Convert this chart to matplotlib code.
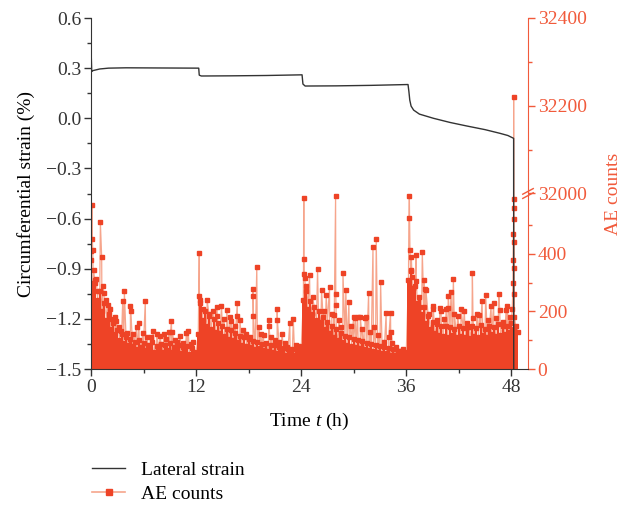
import numpy as np
import matplotlib
matplotlib.use('Agg')
import matplotlib.pyplot as plt
from matplotlib.lines import Line2D
from matplotlib.ticker import FixedLocator, FuncFormatter, NullFormatter

plt.rcParams['font.family'] = ['Liberation Serif', 'DejaVu Serif']
plt.rcParams['mathtext.fontset'] = 'custom'
plt.rcParams['mathtext.it'] = 'Liberation Serif:italic'
plt.rcParams['mathtext.rm'] = 'Liberation Serif'

# lateral (circumferential) strain, %
strain_t = [0, 0.03, 0.08, 0.2, 0.6, 1.0, 2.0, 4.0, 8.0, 12.3, 12.36, 12.6, 16.0, 20.0,
            24.1, 24.2, 24.45, 28.0, 32.0, 36.2, 36.3, 36.4, 36.55, 36.84, 37.5, 39.1,
            41.0, 42.9, 45.0, 46.7, 47.6, 48.26, 48.27]
strain_v = [0.22, 0.37, 0.28, 0.285, 0.29, 0.295, 0.3, 0.302, 0.301, 0.3, 0.258, 0.253, 0.254, 0.256,
            0.26, 0.205, 0.193, 0.194, 0.197, 0.202, 0.16, 0.109, 0.073, 0.049, 0.025, 0.0,
            -0.025, -0.046, -0.068, -0.09, -0.103, -0.12, -1.5]

# AE counts, background level sampled every 0.25 h
base_step = 0.25
base_v = [380, 300, 310, 240, 270, 200, 230, 170, 190, 140, 160, 120,
          135, 100, 120, 90, 110, 85, 105, 80, 95, 70, 100, 75,
          90, 65, 85, 70, 95, 60, 80, 72, 88, 58, 82, 66,
          90, 60, 78, 64, 84, 55, 76, 62, 80, 52, 72, 60,
          # 12 h
          55, 120, 230, 170, 200, 150, 185, 140, 175, 130, 160, 125,
          150, 115, 140, 105, 135, 100, 125, 95, 115, 85, 110, 80,
          105, 78, 98, 70, 95, 72, 88, 65, 90, 62, 84, 60,
          82, 56, 78, 58, 74, 50, 70, 54, 68, 48, 66, 60,
          # 24 h
          70, 240, 270, 210, 235, 190, 215, 170, 200, 155, 180, 140,
          165, 125, 150, 110, 140, 100, 125, 95, 115, 85, 110, 80,
          105, 75, 100, 72, 96, 68, 92, 66, 88, 62, 85, 60,
          80, 56, 76, 54, 72, 50, 68, 48, 64, 46, 62, 55,
          # 36 h
          60, 310, 340, 280, 290, 230, 250, 190, 215, 160, 185, 140,
          165, 125, 155, 118, 150, 115, 148, 112, 145, 118, 140, 110,
          150, 115, 142, 112, 146, 108, 150, 116, 144, 110, 152, 118,
          140, 112, 150, 120, 145, 114, 155, 118, 148, 122, 150, 130,
          160, 140, 150, 130]
base_t = np.arange(len(base_v)) * base_step

# AE count bursts
peak_t = [0.05, 0.1, 0.15, 0.2, 0.3, 0.45, 0.6, 0.8, 1.07, 1.22, 1.35, 1.49, 1.7, 1.97, 2.2,
          2.45, 2.7, 2.9, 3.2, 3.4, 3.62, 3.81, 4.1, 4.5, 4.55, 4.8, 5.2, 5.49, 5.9, 6.2, 6.4,
          6.8, 7.12, 7.5, 7.9, 8.3, 8.6, 8.9, 9.18, 9.3, 9.6, 9.85, 10.2, 10.5, 10.9, 11.1,
          11.4, 11.7,
          12.36, 12.38, 12.5, 12.8, 13.26, 13.5, 13.9, 14.36, 14.4, 14.9, 15.2, 15.5, 15.9,
          16.0, 16.4, 16.7, 16.72, 17.0, 17.3, 17.7, 18.1, 18.5, 18.52, 18.55, 18.93, 19.2,
          19.4, 19.7, 20.3, 20.32, 20.6, 21.0, 21.26, 21.28, 21.5, 21.8, 22.1, 22.4, 22.7,
          23.1, 23.4, 23.7,
          24.3, 24.32, 24.34, 24.4, 24.6, 24.96, 25.3, 25.87, 25.99, 26.33, 26.6, 26.86,
          27.24, 27.5, 27.7, 27.93, 27.95, 27.98, 28.3, 28.6, 28.77, 29.1, 29.45, 29.7,
          29.98, 30.2, 30.44, 30.75, 31.0, 31.3, 31.43, 31.7, 31.9, 32.2, 32.35, 32.57,
          32.8, 33.07, 33.4, 33.7, 34.0, 34.2, 34.25, 34.4, 34.8, 35.2, 35.6,
          36.3, 36.35, 36.42, 36.5, 36.58, 36.65, 36.8, 37.11, 37.15, 37.5, 37.83, 38.02,
          38.1, 38.25, 38.6, 39.09, 39.1, 39.5, 39.85, 39.97, 40.3, 40.54, 40.77, 40.8,
          41.11, 41.38, 41.5, 41.87, 42.25, 42.63, 42.9, 43.17, 43.55, 43.62, 44.08, 44.35,
          44.65, 45.07, 45.3, 45.68, 45.98, 46.25, 46.56, 46.67, 47.0, 47.4, 47.51, 47.8,
          47.97, 48.1, 48.2, 48.22, 48.24, 48.25, 48.26, 48.27, 48.28, 48.29, 48.3, 48.32,
          48.35]
peak_v = [410, 571, 451, 414, 344, 300, 313, 270, 510, 388, 290, 263, 240, 222, 209,
          175, 180, 168, 147, 133, 238, 270, 125, 218, 200, 121, 146, 159, 124, 236, 112,
          110, 132, 121, 114, 122, 105, 129, 168, 129, 100, 95, 113, 90, 125, 131,
          88, 95,
          404, 255, 240, 210, 239, 190, 200, 217, 184, 218, 175, 205, 182,
          168, 150, 228, 184, 170, 136, 120, 110, 277, 253, 183, 354, 145,
          121, 118, 170, 150, 112, 100, 210, 172, 95, 122, 90, 78, 161,
          173, 85, 80,
          594, 381, 330, 318, 290, 326, 250, 346, 165, 274, 200, 257,
          286, 190, 188, 600, 260, 221, 170, 147, 335, 274, 234, 150,
          180, 176, 182, 180, 140, 176, 180, 263, 130, 425, 147, 451,
          118, 302, 95, 193, 110, 194, 130, 89, 75, 61, 70,
          524, 600, 414, 344, 391, 321, 280, 395, 307, 217, 407, 310,
          277, 273, 190, 219, 207, 170, 213, 200, 175, 208, 211, 254,
          267, 312, 191, 185, 208, 200, 160, 147, 333, 176, 191, 187,
          238, 258, 170, 218, 228, 176, 260, 205, 165, 205, 219, 182,
          159, 210, 300, 380, 470, 560, 32220, 590, 520, 440, 350, 260,
          180]

RED = '#EE4326'
SALMON = '#F6A58C'
AXRED = '#F15A3B'
BLACK = '#333333'

ae_t = np.concatenate([base_t, peak_t])
ae_v = np.concatenate([base_v, peak_v]).astype(float)
order = np.argsort(ae_t, kind='stable')
ae_t, ae_v = ae_t[order], ae_v[order]

fig = plt.figure(figsize=(6.24, 5.11), dpi=100)
ax = fig.add_axes([91 / 624, 1 - 369 / 511, (528 - 91) / 624, (369 - 18) / 511])
ax2 = ax.twinx()
ax.set_zorder(ax2.get_zorder() + 1)
ax.patch.set_visible(False)

# broken right axis: 0-610 on the lower half, 32000-32400 on the upper half
def fwd(v):
    return np.interp(v, [0, 610, 32000, 32400], [0, 0.5, 0.5001, 1.0])


def inv(y):
    return np.interp(y, [0, 0.5, 0.5001, 1.0], [0, 610, 32000, 32400])


ax2.set_yscale('function', functions=(fwd, inv))
ax2.set_ylim(0, 32400)

ax2.plot(ae_t, ae_v, color=SALMON, lw=0.9, zorder=1)
# dense background of the AE record as one filled step polygon
ax2.fill_between(base_t, 0, base_v, step='mid', color=RED, linewidth=0, zorder=2)
ax2.plot(ae_t, ae_v, ls='none', marker='s', markersize=3.3, color=RED, zorder=3)

ax.plot(strain_t, strain_v, color=BLACK, lw=1.0, zorder=5)

ax.set_xlim(0, 49.9)
ax.set_ylim(-1.5, 0.6)
ax.xaxis.set_major_locator(FixedLocator([0, 12, 24, 36, 48]))
ax.xaxis.set_minor_locator(FixedLocator([6, 18, 30, 42]))
ax.yaxis.set_major_locator(FixedLocator([-1.5, -1.2, -0.9, -0.6, -0.3, 0.0, 0.3, 0.6]))
ax.yaxis.set_minor_locator(FixedLocator([-1.35, -1.05, -0.75, -0.45, -0.15, 0.15, 0.45]))
ax.yaxis.set_major_formatter(FuncFormatter(lambda v, p: ('%.1f' % v).replace('-', '\u2212')))

ax2.yaxis.set_major_locator(FixedLocator([0, 200, 400, 32000, 32200, 32400]))
ax2.yaxis.set_minor_locator(FixedLocator([100, 300, 500, 32100, 32300]))
ax2.yaxis.set_major_formatter(FuncFormatter(lambda v, p: '%d' % round(v)))
ax2.yaxis.set_minor_formatter(NullFormatter())

for s in ['top', 'right']:
    ax.spines[s].set_visible(False)
for s in ['top', 'left', 'bottom']:
    ax2.spines[s].set_visible(False)
ax.spines['left'].set_color(BLACK)
ax.spines['bottom'].set_color(BLACK)
ax2.spines['right'].set_color(AXRED)

ax.tick_params(which='major', length=5, width=1, colors=BLACK, labelsize=14, pad=2)
ax.tick_params(which='minor', length=3, width=1, colors=BLACK)
ax2.tick_params(which='major', length=5, width=1, colors=AXRED, labelsize=14, pad=2)
ax2.tick_params(which='minor', length=3, width=1, colors=AXRED)

# break marks on the right spine
for dy in (-0.006, 0.006):
    ax2.plot([0.988, 1.012], [0.5 + dy - 0.008, 0.5 + dy + 0.008], transform=ax2.transAxes,
             color=AXRED, lw=1, clip_on=False, zorder=10)

ax.set_xlabel('Time $t$ (h)', fontsize=14, labelpad=11)
ax.set_ylabel('Circumferential strain (%)', fontsize=14, labelpad=8)
ax2.set_ylabel('AE counts', fontsize=14, color=AXRED, labelpad=13)

handles = [Line2D([], [], color=BLACK, lw=1.0),
           Line2D([], [], color=SALMON, lw=1.2, marker='s', markersize=4,
                  markerfacecolor=RED, markeredgecolor=RED)]
fig.legend(handles, ['Lateral strain', 'AE counts'], loc='upper left',
           bbox_to_anchor=(92 / 624, 1 - 461 / 511), frameon=False, fontsize=14,
           handlelength=1.7, handletextpad=0.8, labelspacing=0.35,
           borderpad=0, borderaxespad=0)

fig.savefig('out.png', dpi=100)
